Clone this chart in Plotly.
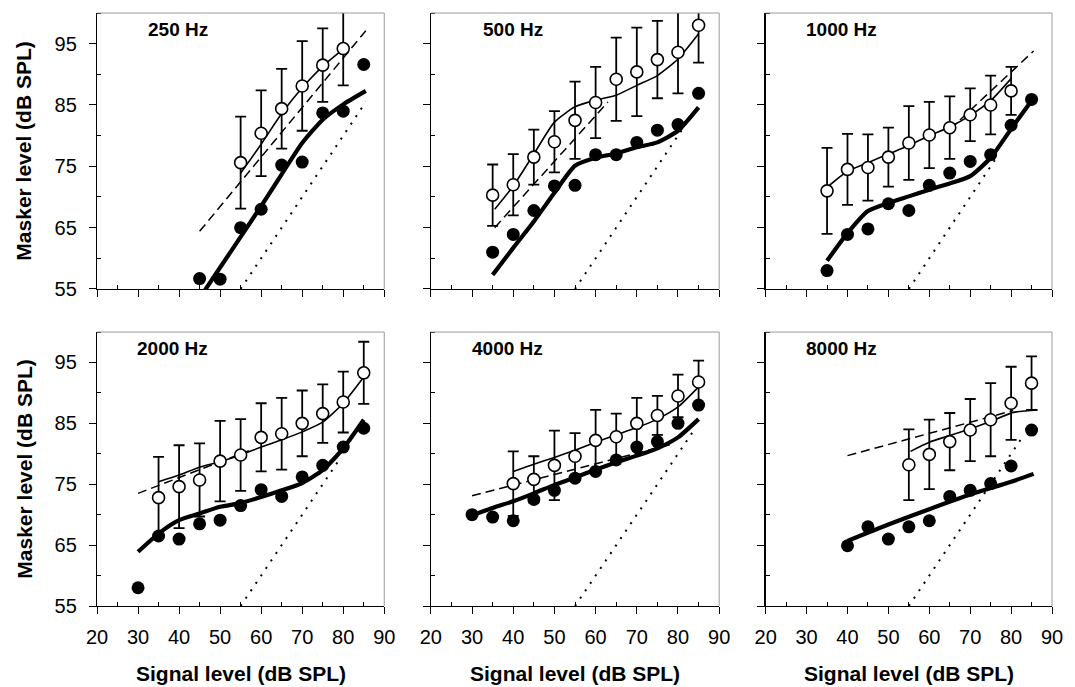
import plotly.graph_objects as go

panel_labels = ["250 Hz", "500 Hz", "1000 Hz", "2000 Hz", "4000 Hz", "8000 Hz"]

# ---------------- 250 Hz ----------------
open_x_250 = [55, 60, 65, 70, 75, 80]
open_y_250 = [75.6, 80.4, 84.4, 88.1, 91.5, 94.2]
open_err_250 = [7.5, 7.0, 6.5, 7.3, 6.0, 6.0]
fill_x_250 = [45, 50, 55, 60, 65, 70, 75, 80, 85]
fill_y_250 = [56.7, 56.6, 65.0, 68.0, 75.2, 75.7, 83.7, 84.0, 91.6]
thick_x_250 = [46, 50, 55, 60, 65, 70, 75, 80, 85.5]
thick_y_250 = [54.5, 58.5, 63.5, 68.5, 73.7, 78.8, 82.6, 85.1, 87.3]
thin_x_250 = [55, 60, 65, 70, 75, 80]
thin_y_250 = [73.9, 78.6, 83.6, 87.8, 91.3, 94.1]
dash_x_250 = [45, 85.5]
dash_y_250 = [64.4, 97.1]
dot_x_250 = [55, 85.5]
dot_y_250 = [55, 85.5]

# ---------------- 500 Hz ----------------
open_x_500 = [35, 40, 45, 50, 55, 60, 65, 70, 75, 80, 85]
open_y_500 = [70.3, 72.0, 76.5, 79.0, 82.5, 85.4, 89.2, 90.4, 92.4, 93.6, 98.0]
open_err_500 = [5.0, 5.0, 4.5, 5.0, 6.3, 5.8, 6.8, 7.2, 6.3, 6.7, 6.1]
fill_x_500 = [35, 40, 45, 50, 55, 60, 65, 70, 75, 80, 85]
fill_y_500 = [61.0, 63.9, 67.8, 71.8, 71.9, 76.9, 76.9, 78.9, 80.9, 81.8, 86.9]
thick_x_500 = [35, 40, 45, 50, 55, 60, 65, 70, 75, 80, 85]
thick_y_500 = [57.3, 61.7, 66.0, 70.7, 75.1, 76.4, 77.1, 78.1, 78.9, 80.8, 84.6]
thin_x_500 = [35.5, 40, 45, 50, 55, 60, 65, 70, 75, 80, 85]
thin_y_500 = [68.0, 71.8, 77.0, 82.2, 84.7, 85.8, 86.6, 88.2, 89.8, 92.5, 96.6]
dash_x_500 = [35.5, 63]
dash_y_500 = [65.0, 85.5]
dot_x_500 = [55, 81]
dot_y_500 = [55, 81]

# ---------------- 1000 Hz ----------------
open_x_1000 = [35, 40, 45, 50, 55, 60, 65, 70, 75, 80]
open_y_1000 = [71.0, 74.5, 74.8, 76.5, 78.8, 80.1, 81.3, 83.4, 85.0, 87.3]
open_err_1000 = [7.0, 5.8, 5.4, 4.8, 6.0, 5.4, 5.1, 4.3, 4.8, 3.9]
fill_x_1000 = [35, 40, 45, 50, 55, 60, 65, 70, 75, 80, 85]
fill_y_1000 = [58.0, 63.9, 64.8, 68.9, 67.8, 71.9, 73.9, 75.8, 76.9, 81.7, 85.9]
thick_x_1000 = [35, 40, 45, 50, 55, 60, 65, 70, 75, 80, 85]
thick_y_1000 = [59.6, 64.1, 67.7, 69.0, 70.1, 71.2, 72.2, 73.4, 76.4, 81.1, 85.7]
thin_x_1000 = [35.4, 40, 45, 50, 55, 60, 65, 70, 75, 80]
thin_y_1000 = [71.8, 74.2, 75.6, 77.0, 78.4, 80.0, 81.4, 83.3, 85.7, 89.3]
dash_x_1000 = [65, 85.5]
dash_y_1000 = [81.0, 93.8]
dot_x_1000 = [55, 76]
dot_y_1000 = [55, 76]

# ---------------- 2000 Hz ----------------
open_x_2000 = [35, 40, 45, 50, 55, 60, 65, 70, 75, 80, 85]
open_y_2000 = [72.8, 74.6, 75.7, 78.8, 79.8, 82.7, 83.3, 85.0, 86.6, 88.5, 93.3]
open_err_2000 = [6.7, 6.8, 6.0, 6.6, 5.9, 5.6, 5.9, 5.4, 4.8, 5.0, 5.1]
fill_x_2000 = [30, 35, 40, 45, 50, 55, 60, 65, 70, 75, 80, 85]
fill_y_2000 = [58.0, 66.5, 66.0, 68.5, 69.1, 71.5, 74.1, 73.0, 76.2, 78.1, 81.1, 84.2]
thick_x_2000 = [30, 35, 40, 45, 50, 55, 60, 65, 70, 75, 80, 85]
thick_y_2000 = [63.9, 66.9, 69.1, 70.2, 71.3, 71.9, 72.9, 74.0, 75.2, 77.3, 80.9, 85.6]
thin_x_2000 = [35, 40, 45, 50, 55, 60, 65, 70, 75, 80, 85]
thin_y_2000 = [75.4, 76.5, 77.8, 78.7, 79.8, 81.1, 82.3, 83.6, 85.2, 88.3, 92.6]
dash_x_2000 = [30, 57]
dash_y_2000 = [73.5, 80.5]
dot_x_2000 = [55, 79]
dot_y_2000 = [55, 79]

# ---------------- 4000 Hz ----------------
open_x_4000 = [40, 45, 50, 55, 60, 65, 70, 75, 80, 85]
open_y_4000 = [75.1, 75.8, 78.1, 79.6, 82.2, 82.8, 85.0, 86.3, 89.5, 91.8]
open_err_4000 = [5.3, 3.8, 5.7, 3.8, 5.0, 3.8, 4.2, 3.2, 3.5, 3.5]
fill_x_4000 = [30, 35, 40, 45, 50, 55, 60, 65, 70, 75, 80, 85]
fill_y_4000 = [70.0, 69.6, 69.0, 72.5, 74.0, 76.0, 77.1, 79.0, 81.1, 82.0, 85.0, 88.0]
thick_x_4000 = [30, 35, 40, 45, 50, 55, 60, 65, 70, 75, 80, 85]
thick_y_4000 = [69.9, 71.1, 72.2, 73.5, 74.9, 76.1, 77.4, 78.6, 79.7, 80.9, 82.7, 85.7]
thin_x_4000 = [40, 45, 50, 55, 60, 65, 70, 75, 80, 85]
thin_y_4000 = [77.1, 78.3, 79.4, 80.6, 81.9, 83.1, 84.3, 85.7, 87.7, 91.0]
dash_x_4000 = [30, 78]
dash_y_4000 = [73.1, 81.5]
dot_x_4000 = [55, 84]
dot_y_4000 = [55, 84]

# ---------------- 8000 Hz ----------------
open_x_8000 = [55, 60, 65, 70, 75, 80, 85]
open_y_8000 = [78.2, 79.9, 82.0, 83.9, 85.6, 88.3, 91.6]
open_err_8000 = [5.8, 5.7, 4.7, 5.1, 6.0, 6.0, 4.4]
fill_x_8000 = [40, 45, 50, 55, 60, 65, 70, 75, 80, 85]
fill_y_8000 = [64.9, 68.0, 66.0, 68.0, 69.0, 73.0, 74.0, 75.1, 78.0, 83.9]
thick_x_8000 = [40, 50, 60, 70, 80, 85.5]
thick_y_8000 = [65.7, 68.4, 70.9, 73.3, 75.4, 76.7]
thin_x_8000 = [55.4, 60, 65, 70, 75, 80.5, 86.5]
thin_y_8000 = [80.4, 81.9, 83.0, 84.1, 85.3, 86.8, 87.2]
dash_x_8000 = [40, 80.5]
dash_y_8000 = [79.7, 87.1]
dot_x_8000 = [55, 83]
dot_y_8000 = [55, 83]

panels = [
    (open_x_250, open_y_250, open_err_250, fill_x_250, fill_y_250, thick_x_250, thick_y_250,
     thin_x_250, thin_y_250, dash_x_250, dash_y_250, dot_x_250, dot_y_250),
    (open_x_500, open_y_500, open_err_500, fill_x_500, fill_y_500, thick_x_500, thick_y_500,
     thin_x_500, thin_y_500, dash_x_500, dash_y_500, dot_x_500, dot_y_500),
    (open_x_1000, open_y_1000, open_err_1000, fill_x_1000, fill_y_1000, thick_x_1000, thick_y_1000,
     thin_x_1000, thin_y_1000, dash_x_1000, dash_y_1000, dot_x_1000, dot_y_1000),
    (open_x_2000, open_y_2000, open_err_2000, fill_x_2000, fill_y_2000, thick_x_2000, thick_y_2000,
     thin_x_2000, thin_y_2000, dash_x_2000, dash_y_2000, dot_x_2000, dot_y_2000),
    (open_x_4000, open_y_4000, open_err_4000, fill_x_4000, fill_y_4000, thick_x_4000, thick_y_4000,
     thin_x_4000, thin_y_4000, dash_x_4000, dash_y_4000, dot_x_4000, dot_y_4000),
    (open_x_8000, open_y_8000, open_err_8000, fill_x_8000, fill_y_8000, thick_x_8000, thick_y_8000,
     thin_x_8000, thin_y_8000, dash_x_8000, dash_y_8000, dot_x_8000, dot_y_8000),
]

x_ticks = [20, 30, 40, 50, 60, 70, 80, 90]
y_ticks = [55, 65, 75, 85, 95]

col_domains = [[0.0, 0.3008], [0.3496, 0.6515], [0.7002, 1.0]]
row_domains = [[0.5346, 1.0], [0.0, 0.462]]

FONT = "Liberation Sans, Arial, sans-serif"

fig = go.Figure()
layout = dict(
    width=1075, height=687,
    margin=dict(l=97, r=14, t=13, b=81),
    paper_bgcolor="white", plot_bgcolor="white",
    showlegend=False, hovermode=False,
    font=dict(family=FONT, color="black"),
)

annotations = []
shapes = []

for i, p in enumerate(panels):
    (ox, oy, oe, fx, fy, tkx, tky, tnx, tny, dx, dy, dtx, dty) = p
    r, c = divmod(i, 3)
    n = i + 1
    xa = "x" if n == 1 else f"x{n}"
    ya = "y" if n == 1 else f"y{n}"
    xkey = "xaxis" if n == 1 else f"xaxis{n}"
    ykey = "yaxis" if n == 1 else f"yaxis{n}"

    fig.add_trace(go.Scatter(x=dtx, y=dty, mode="lines", xaxis=xa, yaxis=ya,
                             line=dict(color="black", width=2, dash="2px,7px")))
    fig.add_trace(go.Scatter(x=dx, y=dy, mode="lines", xaxis=xa, yaxis=ya,
                             line=dict(color="black", width=1.5, dash="9px,5px")))
    fig.add_trace(go.Scatter(x=tnx, y=tny, mode="lines", xaxis=xa, yaxis=ya,
                             line=dict(color="black", width=1.6, shape="spline", smoothing=0.6)))
    fig.add_trace(go.Scatter(x=tkx, y=tky, mode="lines", xaxis=xa, yaxis=ya,
                             line=dict(color="black", width=4.2, shape="spline", smoothing=0.6)))
    fig.add_trace(go.Scatter(x=ox, y=oy, mode="markers", xaxis=xa, yaxis=ya,
                             error_y=dict(type="data", array=oe, symmetric=True, color="black",
                                          thickness=1.8, width=5.5),
                             marker=dict(symbol="circle", size=12, color="white",
                                         line=dict(color="black", width=1.6))))
    fig.add_trace(go.Scatter(x=fx, y=fy, mode="markers", xaxis=xa, yaxis=ya,
                             marker=dict(symbol="circle", size=13, color="black")))

    layout[xkey] = dict(
        domain=col_domains[c], range=[20, 90], anchor=ya,
        showline=True, linecolor="black", linewidth=1.2, showgrid=False, zeroline=False,
        tickmode="array", tickvals=x_ticks, ticks="outside", ticklen=7, tickcolor="black",
        showticklabels=(r == 1), tickfont=dict(family=FONT, size=20, color="black"),
        ticklabelstandoff=6,
        minor=dict(tick0=25, dtick=10, ticks="inside", ticklen=4, tickcolor="black", showgrid=False),
    )
    layout[ykey] = dict(
        domain=row_domains[r], range=[55, 100], anchor=xa,
        showline=True, linecolor="black", linewidth=1.2, showgrid=False, zeroline=False,
        tickmode="array", tickvals=y_ticks, ticks="outside", ticklen=7, tickcolor="black",
        showticklabels=(c == 0), tickfont=dict(family=FONT, size=20, color="black"),
        ticklabelstandoff=8,
        minor=dict(tick0=60, dtick=10, ticks="inside", ticklen=4, tickcolor="black", showgrid=False),
    )

    # light top and right frame lines
    shapes.append(dict(type="line", xref=f"{xa} domain", yref=f"{ya} domain",
                       x0=0, x1=1, y0=1, y1=1, line=dict(color="#9a9a9a", width=1)))
    shapes.append(dict(type="line", xref=f"{xa} domain", yref=f"{ya} domain",
                       x0=1, x1=1, y0=0, y1=1, line=dict(color="#9a9a9a", width=1)))

    annotations.append(dict(text=f"<b>{panel_labels[i]}</b>", xref=f"{xa} domain", yref=f"{ya} domain",
                            x=0.395, y=0.94, xanchor="right", yanchor="middle", showarrow=False,
                            font=dict(family=FONT, size=19, color="black")))

for r in range(2):
    yc = sum(row_domains[r]) / 2
    annotations.append(dict(text="<b>Masker level (dB SPL)</b>", xref="paper", yref="paper",
                            x=-0.0768, y=yc, xanchor="center", yanchor="middle", textangle=-90,
                            showarrow=False, font=dict(family=FONT, size=21, color="black")))
for c in range(3):
    xc = sum(col_domains[c]) / 2
    annotations.append(dict(text="<b>Signal level (dB SPL)</b>", xref="paper", yref="paper",
                            x=xc, y=-0.113, xanchor="center", yanchor="middle",
                            showarrow=False, font=dict(family=FONT, size=21, color="black")))

layout["annotations"] = annotations
layout["shapes"] = shapes
fig.update_layout(**layout)
# remove the browser's default 8px page margin so the 1075x687 figure fills the window exactly
fig.write_html("out.html", config={"displayModeBar": False, "staticPlot": True},
               post_script="document.body.style.margin='0';document.body.style.overflow='hidden';")
